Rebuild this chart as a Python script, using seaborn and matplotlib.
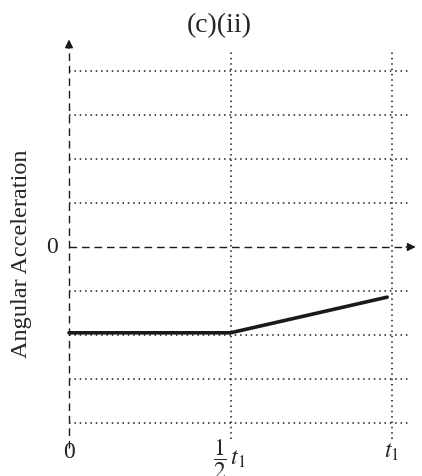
import matplotlib
matplotlib.use("Agg")
import matplotlib.pyplot as plt
import seaborn as sns
import pandas as pd

# data
t_vals = [0.0, 0.5, 0.985]
acc_vals = [-1.95, -1.95, -1.14]
grid_levels = [-4, -3, -2, -1, 1, 2, 3, 4]
vgrid_pos = [0.5, 1.0]
xtick_pos = [0.0, 0.5, 1.0]
xtick_labels = ['0', r'$\dfrac{1}{2}\,t_1$', r'$t_1$']

sns.set_theme(style="white")
plt.rcParams['font.family'] = ['Liberation Serif', 'DejaVu Serif']
plt.rcParams['mathtext.fontset'] = 'stix'

fig = plt.figure(figsize=(4.22, 4.77), dpi=100)
ax = fig.add_axes([0, 0, 1, 1])
ax.set_xlim(-69 / 323, (422 - 69) / 323)
ax.set_ylim((248 - 477) / 44, 248 / 44)
ax.axis('off')

# dotted grid
for g in grid_levels:
    ax.plot([0, 1.05], [g, g], color='k', lw=1.1, ls=(0, (1, 2.5)))
for v in vgrid_pos:
    ax.plot([v, v], [-4.36, 4.45], color='k', lw=1.1, ls=(0, (1, 2.5)))

# dashed axes with arrows
ax.plot([0, 0], [-4.57, 4.5], color='k', lw=1.0, ls=(0, (5.5, 3.5)))
ax.annotate('', xy=(0, 4.78), xytext=(0, 4.45),
            arrowprops=dict(arrowstyle='-|>', color='k', lw=1, mutation_scale=12))
ax.plot([0, 1.04], [0, 0], color='k', lw=1.0, ls=(0, (5.5, 3.5)))
ax.annotate('', xy=(1.082, 0), xytext=(1.035, 0),
            arrowprops=dict(arrowstyle='-|>', color='k', lw=1, mutation_scale=12))

# data line
df = pd.DataFrame({'t': t_vals, 'a': acc_vals})
sns.lineplot(data=df, x='t', y='a', color='k', lw=2.6, ax=ax, legend=False)

# labels
ax.text(xtick_pos[0], (248 - 453) / 44, xtick_labels[0], ha='center', va='center', fontsize=17)
ax.text(xtick_pos[1] - 0.005, (248 - 459) / 44, xtick_labels[1], ha='center', va='center', fontsize=17)
ax.text(xtick_pos[2], (248 - 452) / 44, xtick_labels[2], ha='center', va='center', fontsize=17)
ax.text(-0.035, 0, '0', ha='right', va='center', fontsize=17)
ax.text((22 - 69) / 323, (248 - 254) / 44, 'Angular Acceleration', rotation=90,
        ha='center', va='center', fontsize=17.5)
ax.text((219 - 69) / 323, (248 - 26) / 44, '(c)(ii)', ha='center', va='center', fontsize=20)

fig.savefig('out.png', dpi=100)
